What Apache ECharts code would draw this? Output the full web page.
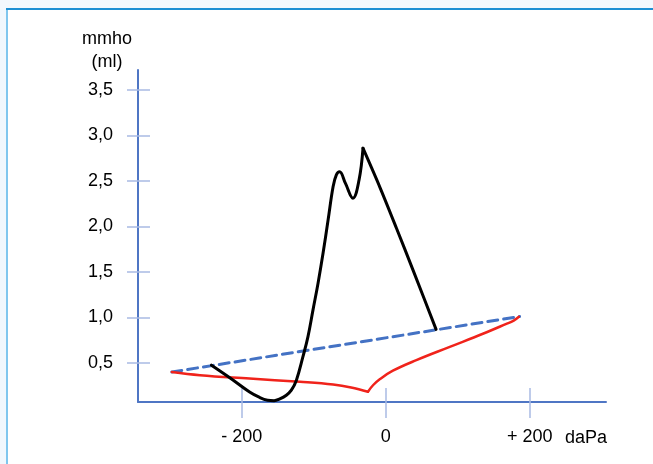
<!DOCTYPE html>
<html>
<head>
<meta charset="utf-8">
<script src="https://cdn.jsdelivr.net/npm/echarts@6/dist/echarts.min.js"></script>
<style>
  html, body { margin: 0; padding: 0; background: #fff; }
  #chart { width: 653px; height: 464px; }
</style>
</head>
<body>
<div id="chart"></div>
<script>
// tick labels
var xTicks = [-200, 0, 200];
var yTicks = [0.5, 1.0, 1.5, 2.0, 2.5, 3.0, 3.5];

// dashed reference line (blue)
var dashedLine = [[-297, 0.40], [186, 1.01]];

// red curve, left of the cusp and right of it
var redLeft = [[-297, 0.40], [-258, 0.365], [-189, 0.328], [-119, 0.292], [-73, 0.262], [-48, 0.23], [-24.6, 0.183]];
var redRight = [[-24.6, 0.183], [-17.6, 0.254], [-8.3, 0.32], [10, 0.414], [42.6, 0.53], [89, 0.676],
  [135, 0.82], [166.7, 0.926], [177.8, 0.965], [185, 1.007]];

// black curve, up to the sharp peak and down from it
var blackRise = [[-242, 0.475], [-217, 0.34], [-189, 0.18], [-175, 0.12], [-164, 0.09], [-155, 0.085],
  [-147, 0.105], [-138, 0.145], [-131, 0.20], [-124, 0.31], [-115, 0.566], [-108, 0.786], [-101, 1.08],
  [-94, 1.374], [-87, 1.705], [-80, 2.07], [-73, 2.44], [-68.5, 2.567], [-64, 2.60], [-56, 2.476],
  [-45.5, 2.31], [-37, 2.51], [-31.5, 2.86]];
var blackFall = [[-31.5, 2.86], [-8, 2.43], [15, 1.98], [38, 1.52], [70, 0.868]];

var FONT = 'Liberation Sans';
var axisBlue = '#4f76c4';
var tickBlue = '#a9bbe4';

var myChart = echarts.init(document.getElementById('chart'));

function lineSeries(data, color, width, type, smooth) {
    return {
        type: 'line',
        data: data,
        smooth: smooth,
        showSymbol: false,
        silent: true,
        lineStyle: { color: color, width: width, type: type, cap: 'round', join: 'round' }
    };
}

function textStyle(txt, align) {
    return { text: txt, fill: '#000', font: '18px "' + FONT + '"', textAlign: align, textVerticalAlign: 'middle' };
}

var option = {
    animation: false,
    backgroundColor: '#fff',
    grid: { left: 138, top: 70, right: 47, bottom: 62 },
    xAxis: [{
        type: 'value', min: -344, max: 306, position: 'bottom',
        axisLine: { show: true, onZero: false, lineStyle: { color: axisBlue, width: 2 } },
        axisTick: { show: true, customValues: xTicks, length: 16, lineStyle: { color: tickBlue, width: 1.5 } },
        axisLabel: {
            customValues: xTicks, margin: 26, color: '#000', fontSize: 18, fontFamily: FONT,
            formatter: function (v) { return v < 0 ? '- ' + (-v) : (v > 0 ? '+ ' + v : '0'); }
        },
        splitLine: { show: false }
    }, {
        type: 'value', min: -344, max: 306, position: 'bottom',
        axisLine: { show: false, onZero: false },
        axisTick: { show: true, inside: true, customValues: xTicks, length: 14, lineStyle: { color: tickBlue, width: 1.5 } },
        axisLabel: { show: false },
        splitLine: { show: false }
    }],
    yAxis: [{
        type: 'value', min: 0.07, max: 3.72, position: 'left',
        axisLine: { show: true, onZero: false, lineStyle: { color: axisBlue, width: 2 } },
        axisTick: { show: true, customValues: yTicks, length: 11, lineStyle: { color: tickBlue, width: 1.5 } },
        axisLabel: {
            customValues: yTicks, margin: 25, color: '#000', fontSize: 18, fontFamily: FONT,
            formatter: function (v) { return v.toFixed(1).replace('.', ','); }
        },
        splitLine: { show: false }
    }, {
        type: 'value', min: 0.07, max: 3.72, position: 'left',
        axisLine: { show: false, onZero: false },
        axisTick: { show: true, inside: true, customValues: yTicks, length: 12, lineStyle: { color: tickBlue, width: 1.5 } },
        axisLabel: { show: false },
        splitLine: { show: false }
    }],
    graphic: [
        // window frame
        { type: 'rect', shape: { x: 0, y: 0, width: 653, height: 9 }, style: { fill: '#f3f8fd' }, silent: true },
        { type: 'rect', shape: { x: 0, y: 9, width: 6, height: 455 }, style: { fill: '#f0f7fd' }, silent: true },
        { type: 'rect', shape: { x: 6, y: 9, width: 2, height: 455 }, style: { fill: '#7fc6ee' }, silent: true },
        { type: 'rect', shape: { x: 6, y: 8, width: 647, height: 2 }, style: { fill: '#1e8fd3' }, silent: true },
        // axis names
        { type: 'text', x: 107, y: 39, style: textStyle('mmho', 'center') },
        { type: 'text', x: 107, y: 62, style: textStyle('(ml)', 'center') },
        { type: 'text', x: 607, y: 438, style: textStyle('daPa', 'right') }
    ],
    series: [
        lineSeries(dashedLine, '#4472c4', 3, [10, 6], false),
        lineSeries(redLeft, '#f0231b', 2.5, 'solid', 0.4),
        lineSeries(redRight, '#f0231b', 2.5, 'solid', 0.4),
        lineSeries(blackRise, '#000', 3, 'solid', 0.4),
        lineSeries(blackFall, '#000', 3, 'solid', 0.3)
    ]
};
myChart.setOption(option);
</script>
</body>
</html>
